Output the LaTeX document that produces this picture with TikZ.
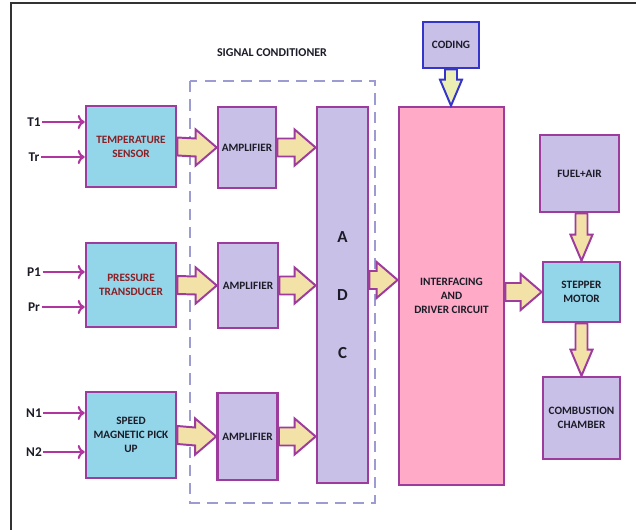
\documentclass[tikz,border=0pt]{standalone}
\usepackage{fontspec}
\setmainfont{Carlito}
\usetikzlibrary{calc,arrows.meta}

\definecolor{sensorfill}{HTML}{93D6EA}
\definecolor{ampfill}{HTML}{C9C0E8}
\definecolor{drvfill}{HTML}{FFABC7}
\definecolor{boxline}{HTML}{9E3C9E}
\definecolor{inline}{HTML}{B0359F}
\definecolor{arrowfill}{HTML}{F2E2A8}
\definecolor{codefill}{HTML}{ECEFB4}
\definecolor{codeline}{HTML}{3535CC}
\definecolor{dashline}{HTML}{9C9CD2}
\definecolor{sensortext}{HTML}{8A1F24}
\definecolor{plaintext}{HTML}{1C1C28}

\tikzset{
  blk/.style={draw=boxline, line width=1.8pt, rectangle, align=center, inner sep=1pt,
    text=plaintext, font=\bfseries\fontsize{8}{10}\selectfont},
  sensor/.style={blk, fill=sensorfill, minimum width=2.25cm, text=sensortext},
  amp/.style={blk, fill=ampfill, minimum width=1.5cm},
  fatarrow/.style={draw=boxline, fill=arrowfill, line width=1.4pt, line join=miter},
  inarrow/.style={draw=inline, line width=1.5pt, -{To[length=5pt,width=10pt]}},
  inlabel/.style={font=\bfseries\fontsize{9.5}{11}\selectfont, text=plaintext, inner sep=1pt}
}

% fat arrow pointing right: #2 start, #3 tip
\newcommand{\harrow}[3][]{%
  \path (#2) coordinate (hs) (#3) coordinate (he);
  \filldraw[fatarrow,#1] ($(hs)+(0,-9)$) -- ($(he)+(-21,-9)$) -- ($(he)+(-21,-18)$) -- (he)
    -- ($(he)+(-21,18)$) -- ($(he)+(-21,9)$) -- ($(hs)+(0,9)$) -- cycle;}
% fat arrow pointing down: #2 start, #3 tip
\newcommand{\varrow}[3][]{%
  \path (#2) coordinate (vs) (#3) coordinate (ve);
  \filldraw[fatarrow,#1] ($(vs)+(-6,0)$) -- ($(ve)+(-6,-26)$) -- ($(ve)+(-11,-26)$) -- (ve)
    -- ($(ve)+(11,-26)$) -- ($(ve)+(6,-26)$) -- ($(vs)+(6,0)$) -- cycle;}

\begin{document}
\begin{tikzpicture}[x=0.025cm, y=-0.025cm]
    \useasboundingbox (0,0) rectangle (636,530);

    % Frame
    \draw[line width=1pt, black!80] (636,3) -- (11,3) -- (11,530);

    % Signal conditioner
    \draw[dashline, line width=1pt, dash pattern=on 8pt off 5pt] (190,81) rectangle (375,503);
    \node[font=\bfseries\fontsize{8.5}{10}\selectfont, text=plaintext] (sigcond) at (272,53) {SIGNAL CONDITIONER};

    % Sensors
    \node[sensor, minimum height=2.03cm] (temp) at (131,146.5) {TEMPERATURE\\SENSOR};
    \node[sensor, minimum height=2.1cm] (press) at (131,285) {PRESSURE\\TRANSDUCER};
    \node[sensor, minimum height=2.15cm, text=plaintext] (speed) at (131,435) {SPEED\\MAGNETIC PICK\\UP};

    % Amplifiers
    \node[amp, minimum width=1.45cm, minimum height=2.03cm] (amp1) at (247,147.5) {AMPLIFIER};
    \node[amp, minimum height=2.13cm] (amp2) at (248,285.5) {AMPLIFIER};
    \node[amp, minimum height=2.18cm] (amp3) at (247.5,436.5) {AMPLIFIER};

    % ADC and driver
    \node[blk, fill=ampfill, minimum width=1.28cm, minimum height=9.4cm,
          font=\bfseries\fontsize{12}{14}\selectfont] (adc) at (342.5,295) {A\\[27pt]D\\[27pt]C};
    \node[blk, fill=drvfill, minimum width=2.63cm, minimum height=9.45cm] (driver) at (451.5,296) {INTERFACING\\AND\\DRIVER CIRCUIT};
    \node[blk, draw=codeline, fill=ampfill, minimum width=1.4cm, minimum height=1.15cm] (coding) at (451,45) {CODING};

    % Engine side
    \node[blk, fill=ampfill, minimum width=1.98cm, minimum height=1.93cm] (fuel) at (579.5,173.5) {FUEL+AIR};
    \node[blk, fill=sensorfill, minimum width=1.93cm, minimum height=1.5cm] (stepper) at (581.5,292) {STEPPER\\MOTOR};
    \node[blk, fill=ampfill, minimum width=1.93cm, minimum height=2.05cm] (chamber) at (581.5,418) {COMBUSTION\\CHAMBER};

    % Inputs
    \node[inlabel] (t1) at (34,122) {T1};
    \node[inlabel] (tr) at (34,157) {Tr};
    \node[inlabel] (p1) at (34,272) {P1};
    \node[inlabel] (pr) at (34,307) {Pr};
    \node[inlabel] (n1) at (34,413) {N1};
    \node[inlabel] (n2) at (34,452) {N2};
    \foreach \lab/\dest in {t1/temp, tr/temp, p1/press, pr/press, n1/speed, n2/speed}
        \draw[inarrow] (\lab.east) -- (\lab.east -| \dest.west);

    % Fat arrows
    \harrow{temp.east}{amp1.west}
    \harrow{press.east}{amp2.west}
    \harrow{speed.east}{amp3.west}
    \harrow{amp1.east}{amp1.east -| adc.west}
    \harrow{amp2.east}{amp2.east -| adc.west}
    \harrow{amp3.east}{amp3.east -| adc.west}
    \harrow{$(adc.east)+(0,-15)$}{$(adc.east -| driver.west)+(0,-15)$}
    \harrow{stepper.west -| driver.east}{stepper.west}
    \varrow[draw=codeline, fill=codefill]{coding.south}{driver.north -| coding.south}
    \varrow{fuel.south -| stepper.north}{stepper.north}
    \varrow{stepper.south}{chamber.north}
\end{tikzpicture}
\end{document}
